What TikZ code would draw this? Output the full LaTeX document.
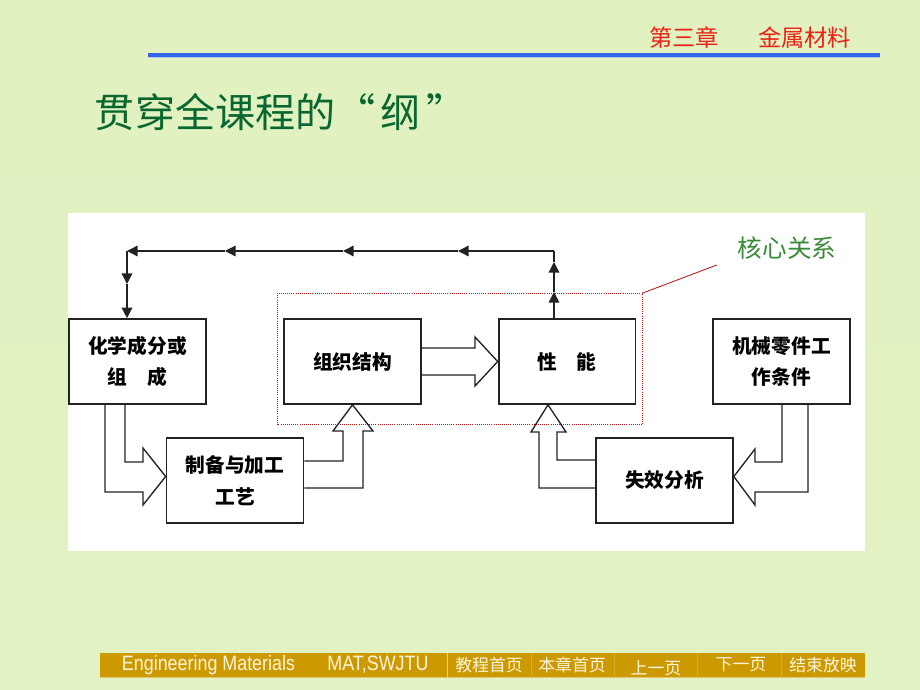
\documentclass[tikz,border=0pt]{standalone}
\usepackage{fontspec}
\setmainfont{Liberation Sans}
\newfontfamily\cjk{Noto Sans CJK SC}
\usetikzlibrary{arrows.meta,calc,positioning}
\definecolor{bgtop}{RGB}{225,241,192}
\definecolor{bgmid}{RGB}{241,248,220}
\definecolor{bgbot}{RGB}{226,242,194}
\definecolor{ruleblue}{RGB}{52,100,232}
\definecolor{headred}{RGB}{234,34,22}
\definecolor{titlegreen}{RGB}{8,102,48}
\definecolor{coregreen}{RGB}{56,138,56}
\definecolor{corered}{RGB}{180,24,24}
\definecolor{bargold}{RGB}{204,153,0}
\definecolor{bartext}{RGB}{255,246,222}
\definecolor{ink}{RGB}{34,34,34}
\tikzset{
    box/.style={draw=ink, line width=1.3pt, fill=white, minimum width=3.42cm, minimum height=2.12cm, align=center, font=\cjk\bfseries\fontsize{14}{22.5}\selectfont},
    fb/.style={draw=ink, line width=1pt},
    hollow/.style={draw=ink, line width=0.95pt, line join=miter},
    coredot/.style={draw=corered, line width=0.5pt, densely dotted},
    bartxt/.style={text=bartext, inner sep=0pt, font=\cjk\fontsize{12}{12}\selectfont}
}

\begin{document}
\begin{tikzpicture}[x=0.025cm, y=-0.025cm, >={Triangle[length=7.5pt,width=7.5pt]}]
\useasboundingbox (0,0) rectangle (920,690);
\shade[top color=bgtop, middle color=bgmid, bottom color=bgbot] (0,0) rectangle (920,690);

% header
\draw[ruleblue, line width=2.2pt] (148,55) -- (880,55);
\draw[ruleblue!35, line width=0.8pt] (148,57.8) -- (880,57.8);
\node[text=headred, font=\cjk\fontsize{16.5}{18}\selectfont] (chap) at (750,38) {第三章\hspace{1.7em}金属材料};
\node[text=titlegreen, font=\cjk\fontsize{28.5}{30}\selectfont, anchor=west] (title) at (90,112) {贯穿全课程的“\hspace{0.12em}纲\hspace{0.15em}”};

\fill[white] (68,213) rectangle (865,551);

\node[box] (A) at (137.5,361.5) {化学成分或\\组\hspace{1em}成};
\node[box] (B) at (235,480.5) {制备与加工\\工艺};
\node[box] (C) at (352.5,361.5) {组织结构};
\node[box] (D) at (567,361.5) {性\hspace{1em}能};
\node[box] (E) at (781.5,361.5) {机械零件工\\作条件};
\node[box] (F) at (664.5,480.5) {失效分析};

% core relation
\coordinate (cnw) at ($(C.north west)+(-6,-25)$);
\coordinate (cse) at ($(D.south east)+(6,20)$);
\coordinate (cne) at (cse |- cnw);
\draw[coredot] (cnw) rectangle (cse);
\node[text=coregreen, font=\cjk\fontsize{17.5}{20}\selectfont] (core) at (787,248) {核心关系};
\draw[corered, line width=0.6pt] (cne) -- ($(core.west)+(-16,17)$);

% feedback loop
\coordinate (up) at ($(D.north)+(-13,0)$);
\coordinate (tr) at (up |- 0,251);
\coordinate (tl) at (127,251);
\coordinate (dn) at (A.north -| tl);
\draw[fb,->] (up) -- (up |- 0,292);
\draw[fb,->] (up |- 0,292) -- (up |- 0,262);
\draw[fb] (up |- 0,262) -- (tr);
\draw[fb,->] (tr) -- (458,251);
\draw[fb,->] (458,251) -- (343,251);
\draw[fb,->] (343,251) -- (225,251);
\draw[fb,->] (225,251) -- (tl);
\draw[fb,->] (tl) -- (tl |- 0,284);
\draw[fb,->] (tl |- 0,284) -- (dn);

% hollow arrows
\draw[hollow] (A.south -| 105,0) |- (143,492) -- (143,505) -- ($(B.west)+(0,-4)$) -- (143,448) -- (143,462) -| (A.south -| 125,0);
\draw[hollow] (B.east |- 0,461) -| (343,431) -- (333,431) -- (C.south) -- (373,431) -- (363,431) |- (B.east |- 0,488);
\draw[hollow] (C.east |- 0,348) -- (475,348) -- (475,337) -- (D.west) -- (475,386) -- (475,375) -- (C.east |- 0,375);
\draw[hollow] (F.west |- 0,460) -| (557,432) -- (566,432) -- ($(D.south)+(-19,0)$) -- (531,432) -- (539,432) |- (F.west |- 0,488);
\draw[hollow] (E.south -| 782,0) |- (755,462) -- (755,449) -- ($(F.east)+(0,-4)$) -- (755,505) -- (755,492) -| (E.south -| 808,0);

% footer
\fill[bargold] (100,653) rectangle (865,678);
\draw[bargold!55!white, line width=0.5pt] (100,677.5) -- (865,677.5);
\draw[bargold!45!white, line width=0.5pt] (447,653) -- (447,678);
\draw[bargold!80!white, line width=0.4pt] (531,653) -- (531,678) (614,653) -- (614,678) (697,653) -- (697,678) (781,653) -- (781,678);
\node[bartxt, font=\fontsize{14.8}{15}\selectfont] (eng) at (208.5,665) {\scalebox{0.86}[1]{Engineering Materials}};
\node[bartxt, font=\fontsize{14.8}{15}\selectfont] (mat) at (378,665) {\scalebox{0.86}[1]{MAT,SWJTU}};
\node[bartxt] (home) at (489,665) {教程首页};
\node[bartxt] (chhome) at (572,665) {本章首页};
\node[bartxt] (prev) at (656,668) {上一页};
\node[bartxt] (next) at (741,665) {下一页};
\node[bartxt] (quit) at (823,665) {结束放映};
\end{tikzpicture}
\end{document}
